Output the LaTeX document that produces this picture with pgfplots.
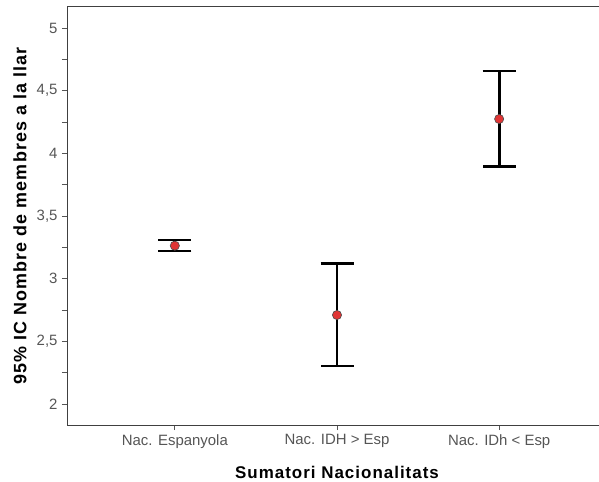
\documentclass[border=0pt]{standalone}
\usepackage{fontspec}
\setmainfont{Liberation Sans}
\newfontfamily\labfont[LetterSpace=6]{Liberation Sans}
\usepackage{pgfplots}
\pgfplotsset{compat=1.18}

\definecolor{axisgray}{HTML}{404040}
\definecolor{labelgray}{HTML}{555555}
\definecolor{meanred}{HTML}{E03535}

\begin{document}
\begin{tikzpicture}
\begin{axis}[
  scale only axis,
  width=540bp, height=418bp,
  xmin=0.335, xmax=3.665,
  ymin=1.8324, ymax=5.1676,
  axis line style={axisgray, line width=1pt},
  xtick={1,2,3},
  xticklabels={Nac. Espanyola, Nac. IDH > Esp, Nac. IDh < Esp},
  ytick={2,2.5,3,3.5,4,4.5,5},
  minor y tick num=1,
  xtick pos=bottom, ytick pos=left,
  tick align=outside,
  major tick length=5bp, minor tick length=5bp,
  tick style={labelgray, line width=0.8pt},
  /pgf/number format/.cd, use comma, fixed, precision=1, assume math mode=true,
  /pgfplots/.cd,
  ticklabel style={font=\fontsize{15}{17}\selectfont, text=labelgray},
  xticklabel style={yshift=-1bp},
  yticklabel style={xshift=-1bp},
  xlabel={\labfont\bfseries Sumatori Nacionalitats},
  ylabel={\labfont\bfseries 95\% IC Nombre de membres a la llar},
  xlabel style={font=\fontsize{17}{20}\selectfont, at={(rel axis cs:0.5,0)}, anchor=base, yshift=-53bp},
  ylabel style={font=\fontsize{18}{20}\selectfont, at={(rel axis cs:0,0.5)}, anchor=center, yshift=47bp},
]
\coordinate (O) at (rel axis cs:0,0);
\coordinate (T) at (rel axis cs:0,1);

% intervals de confiança 95%
\addplot[draw=none, mark=none,
  error bars/.cd, y dir=both, y explicit,
  error bar style={black, line width=2.8bp},
  error mark options={rotate=90, mark size=16.5bp, line width=2.8bp, black}]
  coordinates {
    (1,3.263) += (0,0.046) -= (0,0.042)
    (2,2.710) += (0,0.412) -= (0,0.407)
    (3,4.274) += (0,0.383) -= (0,0.381)
  };

% mitjanes
\addplot[only marks, mark=*, mark size=4.6bp,
  mark options={fill=meanred, draw=black!70, line width=0.6pt}]
  coordinates {(1,3.263) (2,2.710) (3,4.274)};
\end{axis}
\pgfresetboundingbox
\path[use as bounding box] ([shift={(-67bp,-57bp)}]O) rectangle ([shift={(532bp,7bp)}]T);
\end{tikzpicture}
\end{document}
